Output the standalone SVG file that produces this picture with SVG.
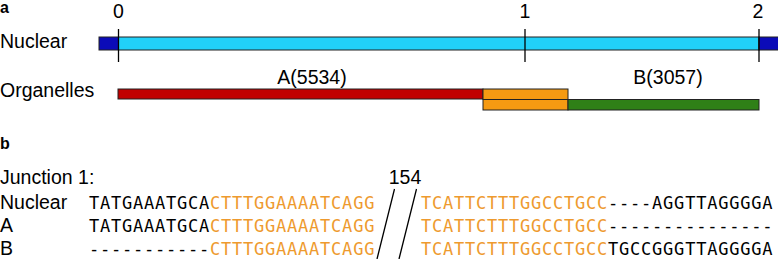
<svg xmlns="http://www.w3.org/2000/svg" width="778" height="259" viewBox="0 0 778 259">
<style>
  .lbl { font-family: "Liberation Sans", Arial, sans-serif; font-size: 19.5px; fill: #000; }
  .panel { font-family: "Liberation Sans", Arial, sans-serif; font-size: 16px; font-weight: bold; fill: #000; }
  .seq { font-family: "DejaVu Sans Mono", monospace; font-size: 17px; letter-spacing: 0.77px; fill: #000; }
  .or { fill: #EE9A2E; }
  .bar { stroke: #222; stroke-width: 1; }
  .tick { stroke: #000; stroke-width: 1.3; }
  .slash { stroke: #000; stroke-width: 1.3; fill: none; }
</style>
<rect width="778" height="259" fill="#fff"/>
<text class="panel" x="0" y="13" font-size="14">a</text>
<text class="panel" x="0" y="149">b</text>

<g id="nuclear-bar">
  <text class="lbl" x="0" y="48">Nuclear</text>
  <rect class="bar" x="99" y="37" width="19.5" height="13" fill="#0B0BB8"/>
  <rect class="bar" x="118.5" y="37" width="640.5" height="13" fill="#21D1F9"/>
  <rect class="bar" x="759" y="37" width="20" height="13" fill="#0B0BB8"/>
</g>
<g id="scale">
  <line class="tick" x1="118.5" y1="29" x2="118.5" y2="62"/>
  <line class="tick" x1="525" y1="29" x2="525" y2="62"/>
  <line class="tick" x1="759" y1="29" x2="759" y2="62"/>
  <text class="lbl" x="118.5" y="17.5" text-anchor="middle">0</text>
  <text class="lbl" x="525" y="17.5" text-anchor="middle">1</text>
  <text class="lbl" x="758" y="17.5" text-anchor="middle">2</text>
</g>
<g id="organelles">
  <text class="lbl" x="0" y="97">Organelles</text>
  <rect class="bar" x="118" y="89" width="365" height="10" fill="#C00000"/>
  <rect class="bar" x="483" y="89" width="85" height="10.5" fill="#F59A12"/>
  <rect class="bar" x="483" y="99.5" width="85" height="10.5" fill="#F59A12"/>
  <rect class="bar" x="568" y="99.5" width="191" height="10.5" fill="#2F8017"/>
  <text class="lbl" x="312" y="84" text-anchor="middle">A(5534)</text>
  <text class="lbl" x="668" y="84" text-anchor="middle">B(3057)</text>
</g>

<g id="junction">
  <text class="lbl" x="0" y="184">Junction 1:</text>
  <text class="lbl" x="0" y="209">Nuclear</text>
  <text class="lbl" x="0" y="231.5">A</text>
  <text class="lbl" x="0" y="254.5">B</text>
  <text class="lbl" x="405" y="184" text-anchor="middle">154</text>
</g>
<g id="sequences">
  <text class="seq" x="89" y="209">TATGAAATGCA<tspan class="or">CTTTGGAAAATCAGG</tspan></text>
  <text class="seq" x="89" y="231.5">TATGAAATGCA<tspan class="or">CTTTGGAAAATCAGG</tspan></text>
  <text class="seq" x="89" y="254.5">-----------<tspan class="or">CTTTGGAAAATCAGG</tspan></text>
  <text class="seq" x="421" y="209"><tspan class="or">TCATTCTTTGGCCTGCC</tspan>----AGGTTAGGGGA</text>
  <text class="seq" x="421" y="231.5"><tspan class="or">TCATTCTTTGGCCTGCC</tspan>---------------</text>
  <text class="seq" x="421" y="254.5"><tspan class="or">TCATTCTTTGGCCTGCC</tspan>TGCCGGGTTAGGGGA</text>
</g>
<g id="connectors">
  <line class="slash" x1="394.5" y1="189" x2="377" y2="259"/>
  <line class="slash" x1="416.5" y1="189" x2="399" y2="259"/>
</g>
</svg>
